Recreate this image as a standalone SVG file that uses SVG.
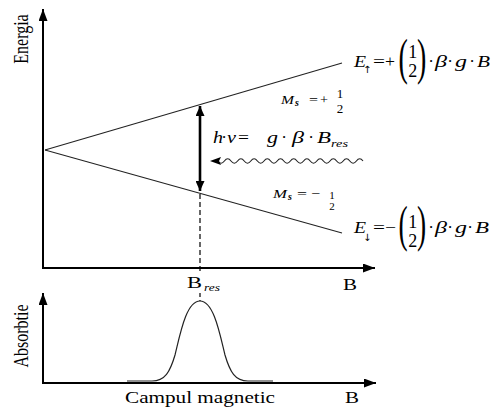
<svg xmlns="http://www.w3.org/2000/svg" width="495" height="408" viewBox="0 0 495 408">
<style>
.t{font-family:'Liberation Serif',serif;fill:#000}
.i{font-style:italic}
.ax{stroke:#000;stroke-width:2;fill:none}
.ln{stroke:#222;stroke-width:1.1;fill:none}
.ar{font-family:'DejaVu Sans',sans-serif;fill:#000}
</style>
<defs>
<marker id="ah" markerUnits="userSpaceOnUse" markerWidth="13" markerHeight="9" refX="12" refY="4.5" orient="auto">
<path d="M0,0 L12,4.5 L0,9 Z" fill="#000"/>
</marker>
<marker id="ah2" markerUnits="userSpaceOnUse" markerWidth="11" markerHeight="9" refX="10" refY="4.5" orient="auto-start-reverse">
<path d="M0,0 L10,4.5 L0,9 Z" fill="#000"/>
</marker>
</defs>
<rect width="495" height="408" fill="#fff"/>

<g id="energy-axes">
<line class="ax" x1="43" y1="269" x2="43" y2="9" marker-end="url(#ah)"/>
<line class="ax" x1="42" y1="268" x2="375" y2="268" marker-end="url(#ah)"/>
<text class="t" font-size="16" text-anchor="middle" transform="translate(28,39) scale(1.37,1) rotate(-90)">Energia</text>
<text class="t" x="343" y="290" font-size="16" textLength="14" lengthAdjust="spacingAndGlyphs">B</text>
</g>

<g id="energy-levels">
<line class="ln" x1="45" y1="150" x2="342" y2="63"/>
<line class="ln" x1="45" y1="150" x2="342" y2="233"/>
</g>

<g id="connectors">
<line x1="200" y1="106" x2="200" y2="191" stroke="#000" stroke-width="2.6" marker-start="url(#ah2)" marker-end="url(#ah2)"/>
<line x1="200" y1="194" x2="200" y2="272" stroke="#000" stroke-width="1.2" stroke-dasharray="5,3"/>
<line x1="200" y1="293" x2="200" y2="301" stroke="#000" stroke-width="1.2" stroke-dasharray="4,3"/>
<path d="M363,161 q-3.3,-4.5 -6.6,0 t-6.6,0 t-6.6,0 t-6.6,0 t-6.6,0 t-6.6,0 t-6.6,0 t-6.6,0 t-6.6,0 t-6.6,0 t-6.6,0 t-6.6,0 t-6.6,0 t-6.6,0 t-6.6,0 t-6.6,0 t-6.6,0 t-6.6,0 t-6.6,0 t-6.6,0 t-6.6,0 t-6.6,0" fill="none" stroke="#222" stroke-width="1.1"/>
<path d="M210,161 L221,157 L219,161 L221,165 Z" fill="#000"/>
</g>

<g id="label-Eup">
<text class="t i" x="354" y="67" font-size="17" textLength="12" lengthAdjust="spacingAndGlyphs">E</text>
<text class="ar" x="363" y="73" font-size="10">↑</text>
<text class="t" x="373" y="67" font-size="17" textLength="12" lengthAdjust="spacingAndGlyphs">=</text>
<text class="t" x="385" y="67" font-size="17" textLength="10" lengthAdjust="spacingAndGlyphs">+</text>
<text class="t" font-size="51" transform="translate(398.5,74) scale(0.55,1)">(</text>
<text class="t" font-size="51" transform="translate(417,74) scale(0.55,1)">)</text>
<text class="t" x="412.8" y="58" font-size="18" text-anchor="middle">1</text>
<text class="t" x="412.8" y="77" font-size="18" text-anchor="middle">2</text>
<text class="t" x="431" y="67" font-size="17" text-anchor="middle">·</text>
<text class="t i" x="435" y="67" font-size="17" textLength="12" lengthAdjust="spacingAndGlyphs">β</text>
<text class="t" x="450" y="67" font-size="17" text-anchor="middle">·</text>
<text class="t i" x="455" y="67" font-size="17" textLength="12" lengthAdjust="spacingAndGlyphs">g</text>
<text class="t" x="472" y="67" font-size="17" text-anchor="middle">·</text>
<text class="t i" x="477" y="67" font-size="17" textLength="13" lengthAdjust="spacingAndGlyphs">B</text>
</g>

<g id="label-Edown">
<text class="t i" x="354" y="233" font-size="17" textLength="12" lengthAdjust="spacingAndGlyphs">E</text>
<text class="ar" x="363" y="241" font-size="10">↓</text>
<text class="t" x="373" y="233" font-size="17" textLength="12" lengthAdjust="spacingAndGlyphs">=</text>
<text class="t" x="385" y="233" font-size="17" textLength="11" lengthAdjust="spacingAndGlyphs">−</text>
<text class="t" font-size="50" transform="translate(398.5,241) scale(0.55,1)">(</text>
<text class="t" font-size="50" transform="translate(417,241) scale(0.55,1)">)</text>
<text class="t" x="412.8" y="228" font-size="18" text-anchor="middle">1</text>
<text class="t" x="412.8" y="247" font-size="18" text-anchor="middle">2</text>
<text class="t" x="431" y="233" font-size="17" text-anchor="middle">·</text>
<text class="t i" x="435" y="233" font-size="17" textLength="12" lengthAdjust="spacingAndGlyphs">β</text>
<text class="t" x="450" y="233" font-size="17" text-anchor="middle">·</text>
<text class="t i" x="455" y="233" font-size="17" textLength="12" lengthAdjust="spacingAndGlyphs">g</text>
<text class="t" x="470" y="233" font-size="17" text-anchor="middle">·</text>
<text class="t i" x="475" y="233" font-size="17" textLength="14" lengthAdjust="spacingAndGlyphs">B</text>
</g>

<g id="label-resonance">
<text class="t i" x="213" y="143" font-size="17" textLength="10" lengthAdjust="spacingAndGlyphs">h</text>
<text class="t" x="224" y="143" font-size="17" text-anchor="middle">·</text>
<text class="t i" x="227" y="143" font-size="17" textLength="9" lengthAdjust="spacingAndGlyphs">ν</text>
<text class="t" x="238" y="143" font-size="17" textLength="11" lengthAdjust="spacingAndGlyphs">=</text>
<text class="t i" x="267" y="143" font-size="17" textLength="11" lengthAdjust="spacingAndGlyphs">g</text>
<text class="t" x="284" y="143" font-size="17" text-anchor="middle">·</text>
<text class="t i" x="292" y="143" font-size="17" textLength="12" lengthAdjust="spacingAndGlyphs">β</text>
<text class="t" x="311" y="143" font-size="17" text-anchor="middle">·</text>
<text class="t i" x="317" y="143" font-size="17" textLength="14" lengthAdjust="spacingAndGlyphs">B</text>
<text class="t i" x="331" y="147" font-size="11" textLength="17" lengthAdjust="spacingAndGlyphs">res</text>
</g>

<g id="label-Ms-up">
<text class="t i" x="281" y="104" font-size="13" textLength="13" lengthAdjust="spacingAndGlyphs">M</text>
<text class="t i" x="295" y="106" font-size="10" font-weight="bold">s</text>
<text class="t" x="309" y="104" font-size="13" textLength="9" lengthAdjust="spacingAndGlyphs">=</text>
<text class="t" x="320" y="104" font-size="13" textLength="8" lengthAdjust="spacingAndGlyphs">+</text>
<text class="t" x="340" y="98" font-size="13" text-anchor="middle">1</text>
<text class="t" x="340" y="113" font-size="13" text-anchor="middle">2</text>
</g>

<g id="label-Ms-down">
<text class="t i" x="273" y="198" font-size="13" textLength="14" lengthAdjust="spacingAndGlyphs">M</text>
<text class="t i" x="288" y="200" font-size="10" font-weight="bold">s</text>
<text class="t" x="297" y="198" font-size="13" textLength="10" lengthAdjust="spacingAndGlyphs">=</text>
<text class="t" x="311" y="198" font-size="13" textLength="9" lengthAdjust="spacingAndGlyphs">−</text>
<text class="t" x="332" y="199" font-size="11" text-anchor="middle">1</text>
<text class="t" x="332" y="210" font-size="11" text-anchor="middle">2</text>
</g>

<g id="label-Bres">
<text class="t" x="187" y="288" font-size="16" textLength="15" lengthAdjust="spacingAndGlyphs">B</text>
<text class="t i" x="204" y="291" font-size="11" textLength="16" lengthAdjust="spacingAndGlyphs">res</text>
</g>

<g id="absorption-axes">
<line class="ax" x1="43" y1="384" x2="43" y2="293" marker-end="url(#ah)"/>
<line class="ax" x1="42" y1="383" x2="376" y2="383" marker-end="url(#ah)"/>
<text class="t" font-size="16" text-anchor="middle" transform="translate(28,336) scale(1.37,1) rotate(-90)">Absorbtie</text>
<text class="t" x="125" y="403" font-size="16" textLength="150" lengthAdjust="spacingAndGlyphs">Campul magnetic</text>
<text class="t" x="345" y="403" font-size="16" textLength="14" lengthAdjust="spacingAndGlyphs">B</text>
</g>

<g id="absorption-peak">
<path d="M127,381 L152,381 C165,381 170,372 175,355 C180,335 186,301 200,301 C214,301 220,335 225,355 C230,372 235,381 248,381 L273,381" fill="none" stroke="#222" stroke-width="1.2"/>
</g>
</svg>
